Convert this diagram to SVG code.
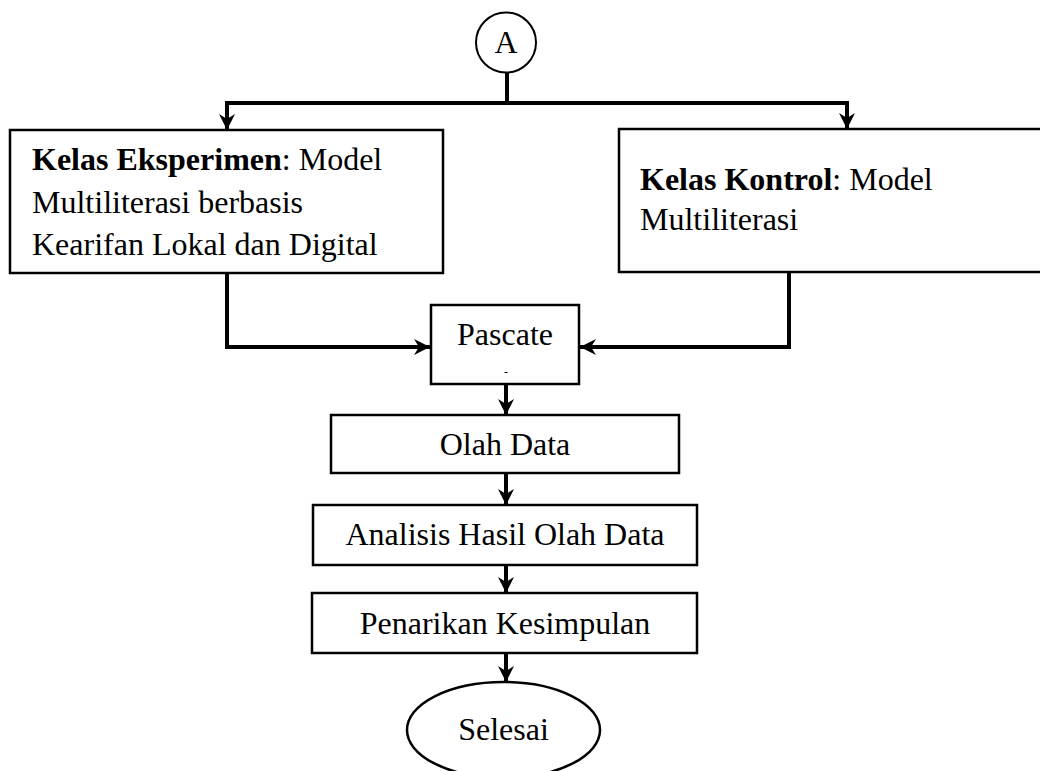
<svg xmlns="http://www.w3.org/2000/svg" width="1040" height="771" viewBox="0 0 1040 771">
<style>
.box{fill:#fff;stroke:#000;stroke-width:2.5}
.t{font-family:"Liberation Serif","Times New Roman",serif;font-size:32px;fill:#000}
.c{text-anchor:middle}
.b{font-weight:bold}
.con{fill:none;stroke:#000;stroke-width:4;stroke-linejoin:miter}
.arr{marker-end:url(#ah)}
</style>
<defs>
<marker id="ah" markerUnits="userSpaceOnUse" markerWidth="17" markerHeight="16" viewBox="0 0 17 16" refX="16" refY="8" orient="auto">
<path d="M0,0 L16,8 L0,16 L5,8 Z" fill="#000"/>
</marker>
</defs>
<rect width="1040" height="771" fill="#fff"/>
<g id="connectors">
<path class="con" d="M507,72 V103"/>
<path class="con arr" d="M507,103 H227 V130"/>
<path class="con arr" d="M507,103 H847 V129"/>
<path class="con arr" d="M227,273 V347 H430"/>
<path class="con arr" d="M789,273 V347 H580"/>
<path class="con arr" d="M506,384 V415"/>
<path class="con arr" d="M506,473 V505"/>
<path class="con arr" d="M506,565 V593"/>
<path class="con arr" d="M506,653 V682"/>
</g>
<g id="node-a">
<circle cx="506" cy="42.5" r="30" fill="#fff" stroke="#000" stroke-width="2"/>
<text class="t c" x="506" y="53">A</text>
</g>
<g id="node-eksperimen">
<rect class="box" x="10" y="130" width="433" height="143"/>
<text class="t" x="32" y="170"><tspan class="b">Kelas Eksperimen</tspan>: Model</text>
<text class="t" x="32" y="213">Multiliterasi berbasis</text>
<text class="t" x="32" y="255">Kearifan Lokal dan Digital</text>
</g>
<g id="node-kontrol">
<rect class="box" x="619" y="129" width="440" height="143"/>
<text class="t" x="640" y="190"><tspan class="b">Kelas Kontrol</tspan>: Model</text>
<text class="t" x="640" y="230">Multiliterasi</text>
</g>
<g id="node-pascate">
<rect class="box" x="431" y="305" width="148" height="79"/>
<text class="t c" x="505" y="345">Pascate</text>
<text class="t c" x="506" y="376" style="font-size:12px">-</text>
</g>
<g id="node-olah">
<rect class="box" x="331" y="415" width="348" height="58"/>
<text class="t c" x="505" y="455">Olah Data</text>
</g>
<g id="node-analisis">
<rect class="box" x="313" y="505" width="384" height="60"/>
<text class="t c" x="505" y="545">Analisis Hasil Olah Data</text>
</g>
<g id="node-penarikan">
<rect class="box" x="312" y="593" width="385" height="60"/>
<text class="t c" x="505" y="634">Penarikan Kesimpulan</text>
</g>
<g id="node-selesai">
<ellipse cx="503.5" cy="730" rx="96.5" ry="48" fill="#fff" stroke="#000" stroke-width="2.5"/>
<text class="t c" x="503.5" y="740">Selesai</text>
</g>
</svg>
